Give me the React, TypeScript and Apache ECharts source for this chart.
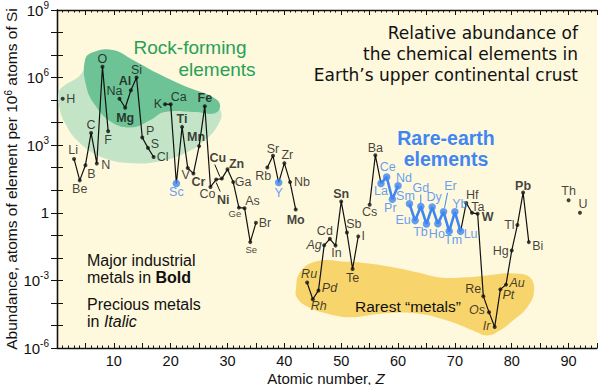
import React, { useEffect, useRef } from 'react';
import * as echarts from 'echarts';

// ---------- data ----------
const symbols = ['H','Li','Be','B','C','N','O','F','Na','Mg','Al','Si','P','S','Cl','K','Ca','Sc','Ti','V','Cr','Mn','Fe','Co','Ni','Cu','Zn','Ga','Ge','As','Se','Br','Rb','Sr','Y','Zr','Nb','Mo','Ru','Rh','Pd','Ag','Cd','In','Sn','Sb','Te','I','Cs','Ba','La','Ce','Pr','Nd','Sm','Eu','Gd','Tb','Dy','Ho','Er','Tm','Yb','Lu','Hf','Ta','W','Re','Os','Ir','Pt','Au','Hg','Tl','Pb','Bi','Th','U'];
const atomicNumbers = [1,3,4,5,6,7,8,9,11,12,13,14,15,16,17,19,20,21,22,23,24,25,26,27,28,29,30,31,32,33,34,35,37,38,39,40,41,42,44,45,46,47,48,49,50,51,52,53,55,56,57,58,59,60,62,63,64,65,66,67,68,69,70,71,72,73,74,75,76,77,78,79,80,81,82,83,90,92];
const abundances = [1.15e5,245,27.5,130,3500,155,3.0e6,4200,1.15e5,4.6e4,2.75e5,1e6,2200,760,300,6.6e4,6.5e4,20,6500,98,55,910,5.4e4,14,30,33,85,23,1.7,1.6,0.05,0.36,102,340,22,160,23,1.4,8e-4,1.45e-4,3.6e-4,0.036,0.07,0.035,3.2,0.135,3.2e-3,0.09,2.3,360,20,39,4.0,16,2.5,0.45,1.9,0.32,1.8,0.33,1.1,0.15,1.1,0.15,2.75,1.0,0.9,2.0e-4,3.9e-5,8.5e-6,4.0e-4,6.5e-4,0.021,0.29,7.9,0.05,3.6,1.0];

const boldElements = ['Mg','Al','Fe','Ti','Mn','Cr','Ni','Cu','Zn','Mo','Sn','W','Pb'];
const italicElements = ['Ru','Rh','Pd','Ag','Os','Ir','Pt','Au'];
const blueElements = ['Sc','Y','La','Ce','Pr','Nd','Sm','Eu','Gd','Tb','Dy','Ho','Er','Tm','Yb','Lu'];
const smallLabelElements = ['Ge','Se'];

const blackChains = [
  ['Li','Be','B','C','N','O','F'],
  ['Na','Mg','Al','Si','P','S','Cl'],
  ['K','Ca','Sc','Ti','V','Cr','Mn','Fe','Co','Ni','Cu','Zn','Ga','Ge','As','Se','Br'],
  ['Rb','Sr','Y','Zr','Nb','Mo'],
  ['Ru','Rh','Pd','Ag','Cd','In','Sn','Sb','Te','I'],
  ['Cs','Ba','La'],
  ['Lu','Hf','Ta','W','Re','Os','Ir','Pt','Au','Hg','Tl','Pb','Bi'],
];
const blueChains = [
  ['La','Ce','Pr','Nd'],
  ['Sm','Eu','Gd','Tb','Dy','Ho','Er','Tm','Yb','Lu'],
];

const xTickLabels = [10,20,30,40,50,60,70,80,90];

// blob outlines: [atomic number, log10 abundance]
const rockLightBlob = [[0.35,5.36],[1.4,5.67],[3.7,6.02],[5.1,6.4],[7.6,6.8],[15,6.2],[27,5.1],[28.85,4.47],[28.3,3.89],[26.0,3.22],[22.5,2.64],[18.1,2.29],[13.4,2.2],[8.4,2.42],[4.05,3.09],[1.4,3.98],[0.35,4.78]];
const rockDarkBlob = [[4.93,6.78],[6.33,7.13],[9.85,7.22],[13.37,6.78],[17.6,6.2],[22.87,5.58],[27.45,5.13],[28.68,4.78],[27.8,4.42],[24.3,4.47],[19.0,4.47],[16.36,4.11],[13.37,3.8],[9.85,3.98],[6.69,4.78],[5.1,5.67]];
const rarestBlob = [[42.05,-3.36],[42.75,-2.64],[45.57,-2.16],[50.3,-2.16],[54.5,-2.24],[59.1,-2.42],[63.3,-2.64],[67.4,-2.87],[71.25,-2.87],[75.65,-2.78],[80.2,-2.69],[83.2,-2.87],[83.9,-3.53],[82.7,-4.2],[80.2,-4.78],[77.9,-5.22],[75.65,-5.44],[73.2,-5.22],[68.6,-4.78],[63.3,-4.47],[57.35,-4.47],[51.55,-4.64],[47.5,-4.47],[44,-4.16],[42.2,-3.76]];

// ---------- layout (label offsets and leader lines in px, relative to the point) ----------
const labelOffsets: Record<string, [number, number]> = {
  H:[8,0], Li:[-1,-9], Be:[0,9], B:[6,9], C:[0,-8], N:[9,2], O:[0,-8], F:[0,9],
  Na:[-5,-8], Mg:[0,10], Al:[-6,-9], Si:[0,-8], P:[8,-6], S:[7,-4], Cl:[9,0],
  K:[-7,0], Ca:[8,-7], Sc:[0,9], Ti:[0,-8], V:[-2,7], Cr:[5,8], Mn:[-3,-9], Fe:[0,-8],
  Co:[-3,7], Ni:[7,20], Cu:[-4,-21], Zn:[9,-5], Ga:[10,0], Ge:[-4,6], As:[8,-7], Se:[1,7], Br:[9,0],
  Rb:[-4,8], Sr:[0,-7], Y:[0,10], Zr:[3,-8], Nb:[12,0], Mo:[0,10],
  Ru:[2,-9], Rh:[6,7], Pd:[11,-2], Ag:[-10,0], Cd:[-5,-8], In:[1,7], Sn:[0,-7], Sb:[7,-8], Te:[0,9], I:[5,0],
  Cs:[0,7], Ba:[0,-7], La:[0,8], Ce:[1,-10], Pr:[-2,9], Nd:[6,-8], Sm:[-4,-8], Eu:[-12,-1], Gd:[0,-19],
  Tb:[-6,8], Dy:[2,-10], Ho:[-1,10], Er:[7,-26], Tm:[4,9], Yb:[5,-8], Lu:[10,3],
  Hf:[6,-8], Ta:[6,-6], W:[10,3], Re:[-10,-7], Os:[-12,-2], Ir:[-8,-1], Pt:[8,6], Au:[11,-2],
  Hg:[-11,0], Tl:[-8,0], Pb:[0,-7], Bi:[9,4], Th:[0,-9], U:[3,-9],
};
const leaderLines: Record<string, [number, number, number, number]> = {
  Cu: [-7, -14, -2, -2],
  Ni: [0, 3, 4, 12],
  Gd: [0, -12, 0, -3],
  Er: [4, -19, 1, -4],
};

const FONT = '"Liberation Sans", Arial, Helvetica, sans-serif';
const FONT_WIDE = '"DejaVu Sans", Verdana, sans-serif';
const BLUE = '#3f86f2';
const GREEN_TEXT = '#27a058';
const INK = '#111111';

const pt = (s: string) => {
  const i = symbols.indexOf(s);
  return [atomicNumbers[i], abundances[i]];
};

function blobSeries(points: number[][], color: string, z: number) {
  return {
    type: 'custom',
    z,
    silent: true,
    data: [[0, 1]],
    encode: { x: 0, y: 1 },
    renderItem: (_params: any, api: any) => ({
      type: 'polygon',
      shape: {
        points: points.map(([zz, e]) => api.coord([zz, Math.pow(10, e)])),
        smooth: 0.45,
      },
      style: { fill: color, stroke: 'none' },
    }),
  };
}

export default function App() {
  const ref = useRef<HTMLDivElement>(null);
  useEffect(() => {
    if (!ref.current) return;
    const chart = echarts.init(ref.current, undefined, { renderer: 'svg' });

    const pointItems = (blue: boolean) =>
      symbols
        .filter((s) => blueElements.includes(s) === blue)
        .map((s) => {
          const off = labelOffsets[s] || [0, 0];
          return {
            value: pt(s),
            name: s,
            label: {
              show: true,
              formatter: s,
              position: 'inside',
              offset: off,
              align: 'center',
              verticalAlign: 'middle',
              color: blue ? BLUE : INK,
              fontFamily: FONT,
              fontSize: smallLabelElements.includes(s) ? 9.5 : 12.5,
              fontWeight: boldElements.includes(s) ? 'bold' : 'normal',
              fontStyle: italicElements.includes(s) ? 'italic' : 'normal',
              textBorderWidth: 0,
            },
          };
        });

    const leaderKeys = Object.keys(leaderLines);

    const xAxisBase = {
      type: 'value',
      min: 0,
      max: 95,
      interval: 5,
      axisLine: { show: true, lineStyle: { color: INK, width: 1.3 } },
      axisTick: { show: true, inside: true, length: 5, lineStyle: { color: INK, width: 1 } },
      minorTick: { show: true, splitNumber: 5, length: 2.5, lineStyle: { color: INK, width: 1 } },
      splitLine: { show: false },
      minorSplitLine: { show: false },
    };
    const yAxisBase = {
      type: 'log',
      logBase: 10,
      min: 1e-6,
      max: 1e9,
      interval: 1,
      splitNumber: 15,
      axisLine: { show: true, lineStyle: { color: INK, width: 1.3 } },
      axisTick: { show: true, inside: true, length: 6, lineStyle: { color: INK, width: 1 } },
      splitLine: { show: false },
    };

    const option: any = {
      animation: false,
      backgroundColor: '#ffffff',
      grid: {
        left: 57, right: 3, top: 10, bottom: 37,
        show: true, backgroundColor: '#fef8dc', borderWidth: 0,
        containLabel: false, outerBoundsMode: 'none',
      },
      xAxis: [
        {
          ...xAxisBase,
          position: 'bottom',
          axisLabel: {
            show: true,
            margin: 6,
            color: INK,
            fontFamily: FONT,
            fontSize: 14.5,
            lineHeight: 14,
            formatter: (v: number) => (xTickLabels.includes(Math.round(v)) ? String(Math.round(v)) : ''),
          },
        },
        { ...xAxisBase, position: 'top', axisLabel: { show: false } },
      ],
      yAxis: [
        {
          ...yAxisBase,
          position: 'left',
          axisLabel: {
            show: true,
            margin: 8,
            color: INK,
            formatter: (v: number) => {
              const e = Math.round(Math.log10(v));
              if (e % 3 !== 0) return '';
              if (e === 0) return '{b|1}';
              return `{b|10}{s|${e}}`;
            },
            rich: {
              b: { fontFamily: FONT, fontSize: 15, color: INK, lineHeight: 20 },
              s: { fontFamily: FONT, fontSize: 10, color: INK, lineHeight: 11, verticalAlign: 'top' },
            },
          },
        },
        { ...yAxisBase, position: 'right', axisLabel: { show: false } },
      ],
      series: [
        blobSeries(rockLightBlob, '#c3e4c6', 1),
        blobSeries(rockDarkBlob, '#6dc395', 2),
        blobSeries(rarestBlob, '#f8d56c', 1),
        ...blackChains.map((c) => ({
          type: 'line',
          z: 3,
          silent: true,
          data: c.map(pt),
          symbol: 'none',
          lineStyle: { color: INK, width: 1.2 },
        })),
        ...blueChains.map((c) => ({
          type: 'line',
          z: 4,
          silent: true,
          data: c.map(pt),
          symbol: 'none',
          lineStyle: { color: BLUE, width: 2.6 },
        })),
        {
          type: 'custom',
          z: 4,
          silent: true,
          data: leaderKeys.map((s) => pt(s)),
          encode: { x: 0, y: 1 },
          renderItem: (params: any, api: any) => {
            const s = leaderKeys[params.dataIndex];
            const [x0, y0, x1, y1] = leaderLines[s];
            const p = api.coord([api.value(0), api.value(1)]);
            return {
              type: 'line',
              shape: { x1: p[0] + x0, y1: p[1] + y0, x2: p[0] + x1, y2: p[1] + y1 },
              style: { stroke: blueElements.includes(s) ? BLUE : INK, lineWidth: 1 },
            };
          },
        },
        {
          type: 'scatter',
          z: 5,
          silent: true,
          symbol: 'circle',
          symbolSize: 4,
          itemStyle: { color: INK },
          data: pointItems(false),
        },
        {
          type: 'scatter',
          z: 6,
          silent: true,
          symbol: 'circle',
          symbolSize: 7.5,
          itemStyle: { color: BLUE },
          data: pointItems(true),
        },
      ],
      graphic: [
        {
          type: 'text', x: 190, y: 47, z: 50,
          style: { text: 'Rock-forming', fill: GREEN_TEXT, fontFamily: FONT, fontSize: 19, align: 'center', verticalAlign: 'middle' },
        },
        {
          type: 'text', x: 217, y: 69, z: 50,
          style: { text: 'elements', fill: GREEN_TEXT, fontFamily: FONT, fontSize: 19, align: 'center', verticalAlign: 'middle' },
        },
        {
          type: 'text', x: 578, y: 33, z: 50,
          style: { text: 'Relative abundance of', fill: INK, fontFamily: FONT_WIDE, fontSize: 17, align: 'right', verticalAlign: 'middle' },
        },
        {
          type: 'text', x: 578, y: 54, z: 50,
          style: { text: 'the chemical elements in', fill: INK, fontFamily: FONT_WIDE, fontSize: 17, align: 'right', verticalAlign: 'middle' },
        },
        {
          type: 'text', x: 578, y: 75, z: 50,
          style: { text: 'Earth\u2019s upper continental crust', fill: INK, fontFamily: FONT_WIDE, fontSize: 17, align: 'right', verticalAlign: 'middle' },
        },
        {
          type: 'text', x: 446, y: 138, z: 50,
          style: { text: 'Rare-earth', fill: BLUE, fontFamily: FONT, fontWeight: 'bold', fontSize: 19.5, align: 'center', verticalAlign: 'middle' },
        },
        {
          type: 'text', x: 446, y: 159, z: 50,
          style: { text: 'elements', fill: BLUE, fontFamily: FONT, fontWeight: 'bold', fontSize: 19.5, align: 'center', verticalAlign: 'middle' },
        },
        {
          type: 'text', x: 87, y: 260, z: 50,
          style: { text: 'Major industrial', fill: INK, fontFamily: FONT, fontSize: 16, align: 'left', verticalAlign: 'middle' },
        },
        {
          type: 'text', x: 87, y: 277, z: 50,
          style: {
            text: 'metals in {b|Bold}', fill: INK, fontFamily: FONT, fontSize: 16, align: 'left', verticalAlign: 'middle',
            rich: { b: { fontFamily: FONT, fontSize: 16, fontWeight: 'bold', fill: INK } },
          },
        },
        {
          type: 'text', x: 87, y: 304, z: 50,
          style: { text: 'Precious metals', fill: INK, fontFamily: FONT, fontSize: 16, align: 'left', verticalAlign: 'middle' },
        },
        {
          type: 'text', x: 87, y: 321, z: 50,
          style: {
            text: 'in {i|Italic}', fill: INK, fontFamily: FONT, fontSize: 16, align: 'left', verticalAlign: 'middle',
            rich: { i: { fontFamily: FONT, fontSize: 16, fontStyle: 'italic', fill: INK } },
          },
        },
        {
          type: 'text', x: 408, y: 306, z: 50,
          style: { text: 'Rarest \u201Cmetals\u201D', fill: INK, fontFamily: FONT, fontSize: 15.5, align: 'center', verticalAlign: 'middle' },
        },
        {
          type: 'text', x: 326, y: 378, z: 50,
          style: {
            text: 'Atomic number, {i|Z}', fill: INK, fontFamily: FONT, fontSize: 15, align: 'center', verticalAlign: 'middle',
            rich: { i: { fontFamily: FONT, fontSize: 15, fontStyle: 'italic', fill: INK } },
          },
        },
        {
          type: 'text', x: 11, y: 179, z: 50, rotation: Math.PI / 2,
          style: {
            text: 'Abundance, atoms of element per 10{s|6} atoms of Si', fill: INK, fontFamily: FONT, fontSize: 15.5,
            align: 'center', verticalAlign: 'middle',
            rich: {
              s: { fontFamily: FONT, fontSize: 10, fill: INK, verticalAlign: 'top', lineHeight: 10 },
            },
          },
        },
      ],
    };

    chart.setOption(option);
    return () => chart.dispose();
  }, []);

  return (
    <div
      ref={ref}
      style={{ position: 'fixed', left: 0, top: 0, width: 600, height: 385, background: '#ffffff' }}
    />
  );
}
